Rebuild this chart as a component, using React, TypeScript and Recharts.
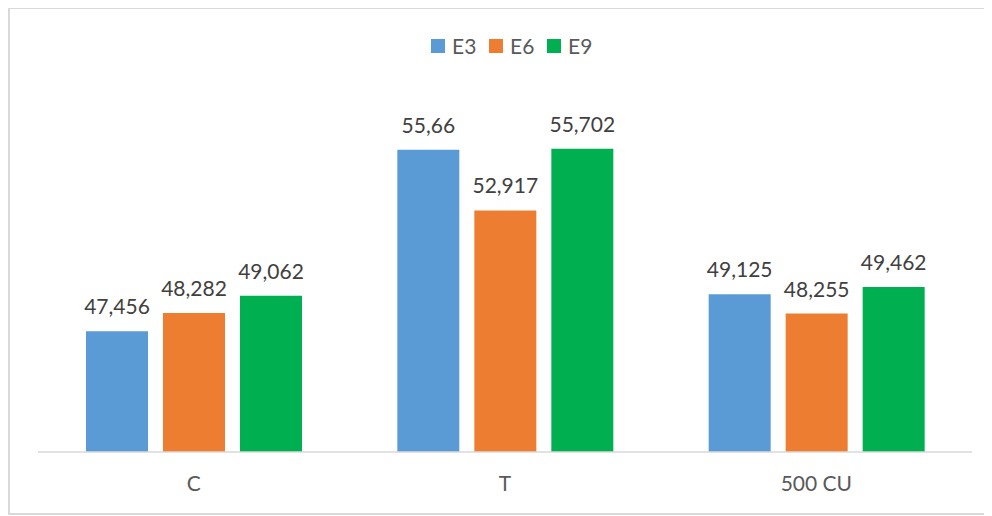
import React from "react";
import { BarChart, Bar, XAxis, YAxis, LabelList } from "recharts";

const categories = ["C", "T", "500 CU"];
const seriesNames = ["E3", "E6", "E9"];
const e3Values = [47.456, 55.66, 49.125];
const e6Values = [48.282, 52.917, 48.255];
const e9Values = [49.062, 55.702, 49.462];
const seriesColors = ["#5B9BD5", "#ED7D31", "#00B050"];
const yDomain: [number, number] = [42, 58];

const data = categories.map((c, i) => ({
  name: c,
  E3: e3Values[i],
  E6: e6Values[i],
  E9: e9Values[i],
}));

const FONT = "Lato, 'Open Sans', sans-serif";
const fmt = (v: any) => String(v).replace(".", ",");

const Tick = (props: any) => {
  const { x, y, payload } = props;
  return (
    <text x={x} y={y + 39} textAnchor="middle" fill="#595959" fontSize={21} fontFamily={FONT}>
      {payload.value}
    </text>
  );
};

export default function App() {
  return (
    <div
      style={{
        position: "relative",
        marginTop: -1,
        width: 990,
        height: 508,
        border: "2px solid #d9d9d9",
        borderRight: "none",
        boxSizing: "border-box",
        background: "#fff",
      }}
    >
      <div
        style={{
          position: "absolute",
          left: 421,
          top: 30,
          display: "flex",
          alignItems: "center",
          fontFamily: FONT,
          fontSize: 21,
          color: "#595959",
          height: 14,
        }}
      >
        {seriesNames.map((s, i) => (
          <div key={s} style={{ display: "flex", alignItems: "center", width: 58 }}>
            <div style={{ width: 14, height: 14, background: seriesColors[i], marginRight: 7 }} />
            <span style={{ lineHeight: "14px" }}>{s}</span>
          </div>
        ))}
      </div>
      <BarChart
        width={982}
        height={504}
        data={data}
        margin={{ top: 89, right: 20, bottom: 31, left: 28 }}
        barSize={62}
        barGap={15}
        style={{ position: "absolute", left: 0, top: 0 }}
      >
        <XAxis
          dataKey="name"
          height={30}
          axisLine={{ stroke: "#d9d9d9", strokeWidth: 1.5 }}
          tickLine={false}
          tickSize={0}
          tickMargin={0}
          tick={<Tick />}
          interval={0}
        />
        <YAxis hide domain={yDomain} allowDataOverflow />
        {seriesNames.map((s, i) => (
          <Bar key={s} dataKey={s} fill={seriesColors[i]} isAnimationActive={false}>
            <LabelList
              dataKey={s}
              position="top"
              offset={17}
              formatter={fmt}
              fill="#404040"
              fontSize={21}
              fontFamily={FONT}
            />
          </Bar>
        ))}
      </BarChart>
    </div>
  );
}
